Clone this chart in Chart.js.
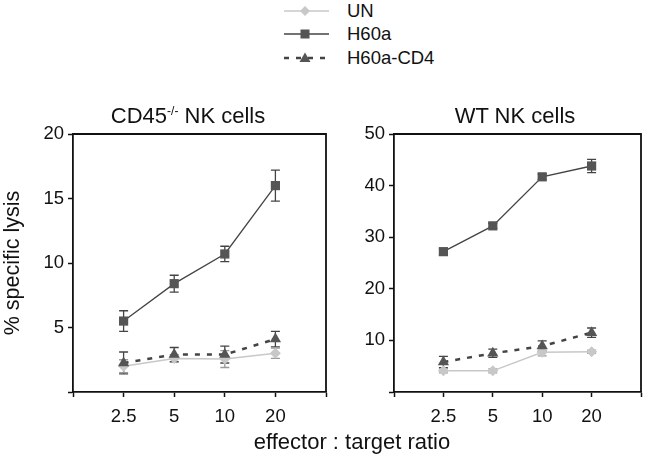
<!DOCTYPE html>
<html>
<head>
<meta charset="utf-8">
<script src="https://cdn.jsdelivr.net/npm/chart.js@4.4.1/dist/chart.umd.min.js"></script>
<style>
  html, body { margin: 0; padding: 0; background: #fff; }
  body { width: 650px; height: 462px; position: relative; overflow: hidden;
         font-family: "Liberation Sans", Arial, Helvetica, sans-serif; color: #111; }
  .abs { position: absolute; }
  .title { font-size: 22px; white-space: nowrap; transform: translate(-50%, -50%); }
  .leg { position: absolute; left: 284px; height: 20px; }
  .leg span { position: absolute; left: 63px; top: 50%; transform: translateY(-50%); font-size: 18.5px; white-space: nowrap; }
  .leg svg { position: absolute; left: 0; top: 3px; }
</style>
</head>
<body>
<canvas id="c1" class="abs" style="left:0px; top:100px;" width="340" height="340"></canvas>
<canvas id="c2" class="abs" style="left:340px; top:100px;" width="310" height="340"></canvas>

<!-- legend -->
<div class="leg" style="top:1px;"><svg width="46" height="14"><line x1="0" y1="7" x2="45" y2="7" stroke="#c8c8c8" stroke-width="1.5"/><polygon points="21,2 26,7 21,12 16,7" fill="#c8c8c8"/></svg><span>UN</span></div>
<div class="leg" style="top:24px;"><svg width="46" height="14"><line x1="0" y1="7" x2="45" y2="7" stroke="#444" stroke-width="1.3"/><rect x="16.5" y="2.5" width="9" height="9" fill="#555"/></svg><span>H60a</span></div>
<div class="leg" style="top:48px;"><svg width="46" height="14"><line x1="0" y1="7" x2="45" y2="7" stroke="#444" stroke-width="2.5" stroke-dasharray="5,7"/><polygon points="21,1.5 26.5,11 15.5,11" fill="#555"/></svg><span>H60a-CD4</span></div>

<div class="abs title" style="left:188px; top:116px;">CD45<sup style="font-size:12px;">-/-</sup> NK cells</div>
<div class="abs title" style="left:515px; top:116px;">WT NK cells</div>
<div class="abs title" style="left:352px; top:442px;">effector : target ratio</div>

<script>
// ---- data ----
const categories = ['2.5', '5', '10', '20'];
const seriesNames = ['UN', 'H60a', 'H60a-CD4'];

// CD45-/- NK cells
const cd45_UN        = [2.0, 2.6, 2.55, 3.0];
const cd45_UN_err    = [0.5, 0.3, 0.65, 0.4];
const cd45_H60a      = [5.5, 8.4, 10.7, 16.0];
const cd45_H60a_err  = [0.8, 0.65, 0.6, 1.2];
const cd45_CD4       = [2.25, 2.9, 2.9, 4.1];
const cd45_CD4_err   = [0.85, 0.55, 0.65, 0.6];

// WT NK cells
const wt_UN          = [4.1, 4.1, 7.7, 7.8];
const wt_UN_err      = [0.4, 0.4, 0.7, 0.3];
const wt_H60a        = [27.2, 32.2, 41.7, 43.8];
const wt_H60a_err    = [0.6, 0.5, 0.5, 1.3];
const wt_CD4         = [5.8, 7.5, 8.9, 11.5];
const wt_CD4_err     = [1.1, 0.8, 1.0, 0.9];

const yTicksLeft  = [5, 10, 15, 20];
const yTicksRight = [10, 20, 30, 40, 50];

// ---- helpers ----
const FONT = '"Liberation Sans", Arial, Helvetica, sans-serif';
const toXY = vals => vals.map((v, i) => ({ x: i + 1, y: v }));

const errorBarPlugin = {
  id: 'errorBars',
  beforeDatasetsDraw(chart) {
    const ctx = chart.ctx;
    const ys = chart.scales.y;
    chart.data.datasets.forEach((ds, di) => {
      const meta = chart.getDatasetMeta(di);
      if (!ds.errorBars) return;
      ctx.save();
      ctx.strokeStyle = ds.errorColor;
      ctx.lineWidth = 1.3;
      meta.data.forEach((pt, i) => {
        const v = ds.data[i].y, e = ds.errorBars[i];
        const yTop = ys.getPixelForValue(v + e);
        const yBot = ys.getPixelForValue(v - e);
        const x = pt.x;
        ctx.beginPath();
        ctx.moveTo(x, yTop); ctx.lineTo(x, yBot);
        ctx.moveTo(x - 4.5, yTop); ctx.lineTo(x + 4.5, yTop);
        ctx.moveTo(x - 4.5, yBot); ctx.lineTo(x + 4.5, yBot);
        ctx.stroke();
      });
      ctx.restore();
    });
  }
};

const frameBoxPlugin = {
  id: 'frameBox',
  afterDraw(chart) {
    const a = chart.chartArea, ctx = chart.ctx;
    ctx.save();
    ctx.strokeStyle = '#111';
    ctx.lineWidth = 1.8;
    ctx.beginPath();
    ctx.moveTo(a.left, a.top); ctx.lineTo(a.right, a.top); ctx.lineTo(a.right, a.bottom);
    ctx.stroke();
    ctx.restore();
  }
};

function makeChart(id, un, unErr, h60, h60Err, cd4, cd4Err, yMax, yTicks, yWidth, padRight, showYTitle) {
  return new Chart(document.getElementById(id), {
    type: 'line',
    data: {
      datasets: [
        { label: seriesNames[1], data: toXY(h60), errorBars: h60Err, errorColor: '#444',
          borderColor: '#444', borderWidth: 1.3, backgroundColor: '#555',
          pointStyle: 'rect', pointRadius: 6.5, pointBorderWidth: 0, pointBackgroundColor: '#555' },
        { label: seriesNames[2], data: toXY(cd4), errorBars: cd4Err, errorColor: '#444',
          borderColor: '#444', borderWidth: 2.5, borderDash: [5, 7], backgroundColor: '#555',
          pointStyle: 'triangle', pointRadius: 6.5, pointBorderWidth: 0, pointBackgroundColor: '#555' },
        { label: seriesNames[0], data: toXY(un), errorBars: unErr, errorColor: '#999',
          borderColor: '#c8c8c8', borderWidth: 1.5, backgroundColor: '#c8c8c8',
          pointStyle: 'rectRot', pointRadius: 5.5, pointBorderWidth: 0, pointBackgroundColor: '#c8c8c8' }
      ]
    },
    options: {
      responsive: false,
      animation: false,
      layout: { padding: { top: 34, right: padRight, left: 0, bottom: 0 } },
      plugins: { legend: { display: false }, tooltip: { enabled: false } },
      scales: {
        x: {
          type: 'linear', min: 0, max: 5,
          afterFit: s => { s.height = 48; },
          afterBuildTicks: s => { s.ticks = [0, 1, 2, 3, 4, 5].map(v => ({ value: v })); },
          ticks: {
            color: '#111', font: { family: FONT, size: 18.5 }, padding: 9, maxRotation: 0,
            callback: v => (v >= 1 && v <= 4) ? categories[v - 1] : ''
          },
          grid: { drawOnChartArea: false, tickLength: 5, tickColor: '#111', tickWidth: 1.5 },
          border: { color: '#111', width: 1.8 }
        },
        y: {
          min: 0, max: yMax,
          afterFit: s => { s.width = yWidth; },
          afterBuildTicks: s => { s.ticks = [0].concat(yTicks).map(v => ({ value: v })); },
          ticks: {
            color: '#111', font: { family: FONT, size: 18.5 }, padding: 4,
            callback: v => v === 0 ? '' : String(v)
          },
          grid: { drawOnChartArea: false, tickLength: 5, tickColor: '#111', tickWidth: 1.5 },
          border: { color: '#111', width: 1.8 },
          title: {
            display: showYTitle, text: '% specific lysis', color: '#111',
            font: { family: FONT, size: 21.5 }, padding: { top: 0, bottom: 0 }
          }
        }
      }
    },
    plugins: [errorBarPlugin, frameBoxPlugin]
  });
}

makeChart('c1', cd45_UN, cd45_UN_err, cd45_H60a, cd45_H60a_err, cd45_CD4, cd45_CD4_err,
          20, yTicksLeft, 73, 14, true);
makeChart('c2', wt_UN, wt_UN_err, wt_H60a, wt_H60a_err, wt_CD4, wt_CD4_err,
          50, yTicksRight, 54, 3, false);
</script>
</body>
</html>
